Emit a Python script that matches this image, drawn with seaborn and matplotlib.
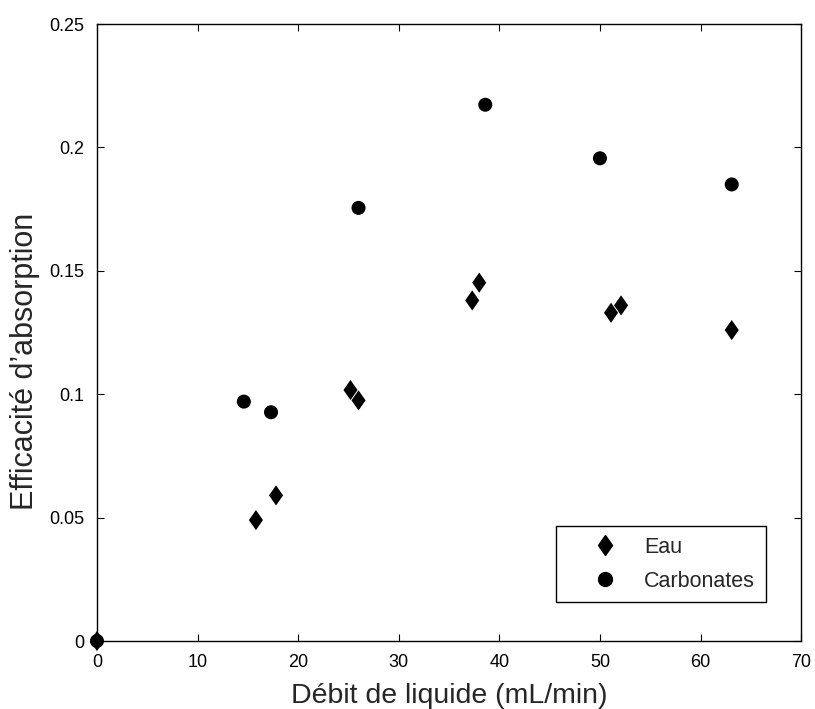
import matplotlib
matplotlib.use("Agg")
import matplotlib.pyplot as plt
import seaborn as sns
import pandas as pd
from matplotlib.lines import Line2D

# Data
eau_debit = [0.0, 15.8, 17.8, 25.2, 26.0, 37.3, 38.0, 51.1, 52.1, 63.1]
eau_eff = [0.0, 0.049, 0.059, 0.1017, 0.0975, 0.138, 0.1452, 0.133, 0.136, 0.126]

carb_debit = [0.0, 14.6, 17.3, 26.0, 38.6, 50.0, 63.1]
carb_eff = [0.0, 0.097, 0.0927, 0.1755, 0.2173, 0.1956, 0.185]

x_ticks = [0, 10, 20, 30, 40, 50, 60, 70]
y_ticks = [0, 0.05, 0.1, 0.15, 0.2, 0.25]
y_ticklabels = ["0", "0.05", "0.1", "0.15", "0.2", "0.25"]

df = pd.concat([
    pd.DataFrame({"debit": eau_debit, "eff": eau_eff, "fluide": "Eau"}),
    pd.DataFrame({"debit": carb_debit, "eff": carb_eff, "fluide": "Carbonates"}),
])

# MATLAB-like diamond (a bit wider than matplotlib's thin 'd')
diamond = [(0, 1), (0.7, 0), (0, -1), (-0.7, 0), (0, 1)]

sns.set_theme(style="ticks")
plt.rcParams["font.family"] = ["Liberation Sans", "DejaVu Sans"]

fig = plt.figure(figsize=(8.15, 7.09), dpi=100)
ax = fig.add_axes([0.119, 0.0959, 0.864, 0.8702])

sns.scatterplot(
    data=df, x="debit", y="eff", style="fluide", size="fluide",
    markers={"Eau": diamond, "Carbonates": "o"},
    sizes={"Eau": 210, "Carbonates": 102},
    color="black", linewidth=0, legend=False, ax=ax, clip_on=False,
    zorder=3,
)

ax.set_xlim(0, 70)
ax.set_ylim(0, 0.25)
ax.set_xticks(x_ticks)
ax.set_yticks(y_ticks)
ax.set_yticklabels(y_ticklabels)
ax.tick_params(direction="in", length=5, width=0.8, labelsize=13,
               top=True, right=True, pad=9, colors="black")
for sp in ax.spines.values():
    sp.set_linewidth(1.0)
    sp.set_color("black")

ax.set_xlabel("Débit de liquide (mL/min)", fontsize=20.5)
ax.set_ylabel("Efficacité d’absorption", fontsize=22)
ax.xaxis.set_label_coords(0.5, -0.1005)
ax.xaxis.label.set_va("baseline")
ax.yaxis.set_label_coords(-0.0909, 0.454)
ax.yaxis.label.set_va("baseline")

handles = [
    Line2D([], [], marker=diamond, color="black", linestyle="none", markersize=14.4),
    Line2D([], [], marker="o", color="black", linestyle="none", markersize=10),
]
leg = ax.legend(handles, ["Eau", "Carbonates"], loc="upper left",
                bbox_to_anchor=(0.652, 0.1864), fontsize=15.5, frameon=True,
                fancybox=False, borderpad=0.5, handlelength=3.5,
                handletextpad=0.1, labelspacing=0.6, borderaxespad=0,
                framealpha=1)
leg.get_frame().set_edgecolor("black")
leg.get_frame().set_linewidth(1.0)

fig.savefig("out.png", dpi=100)
